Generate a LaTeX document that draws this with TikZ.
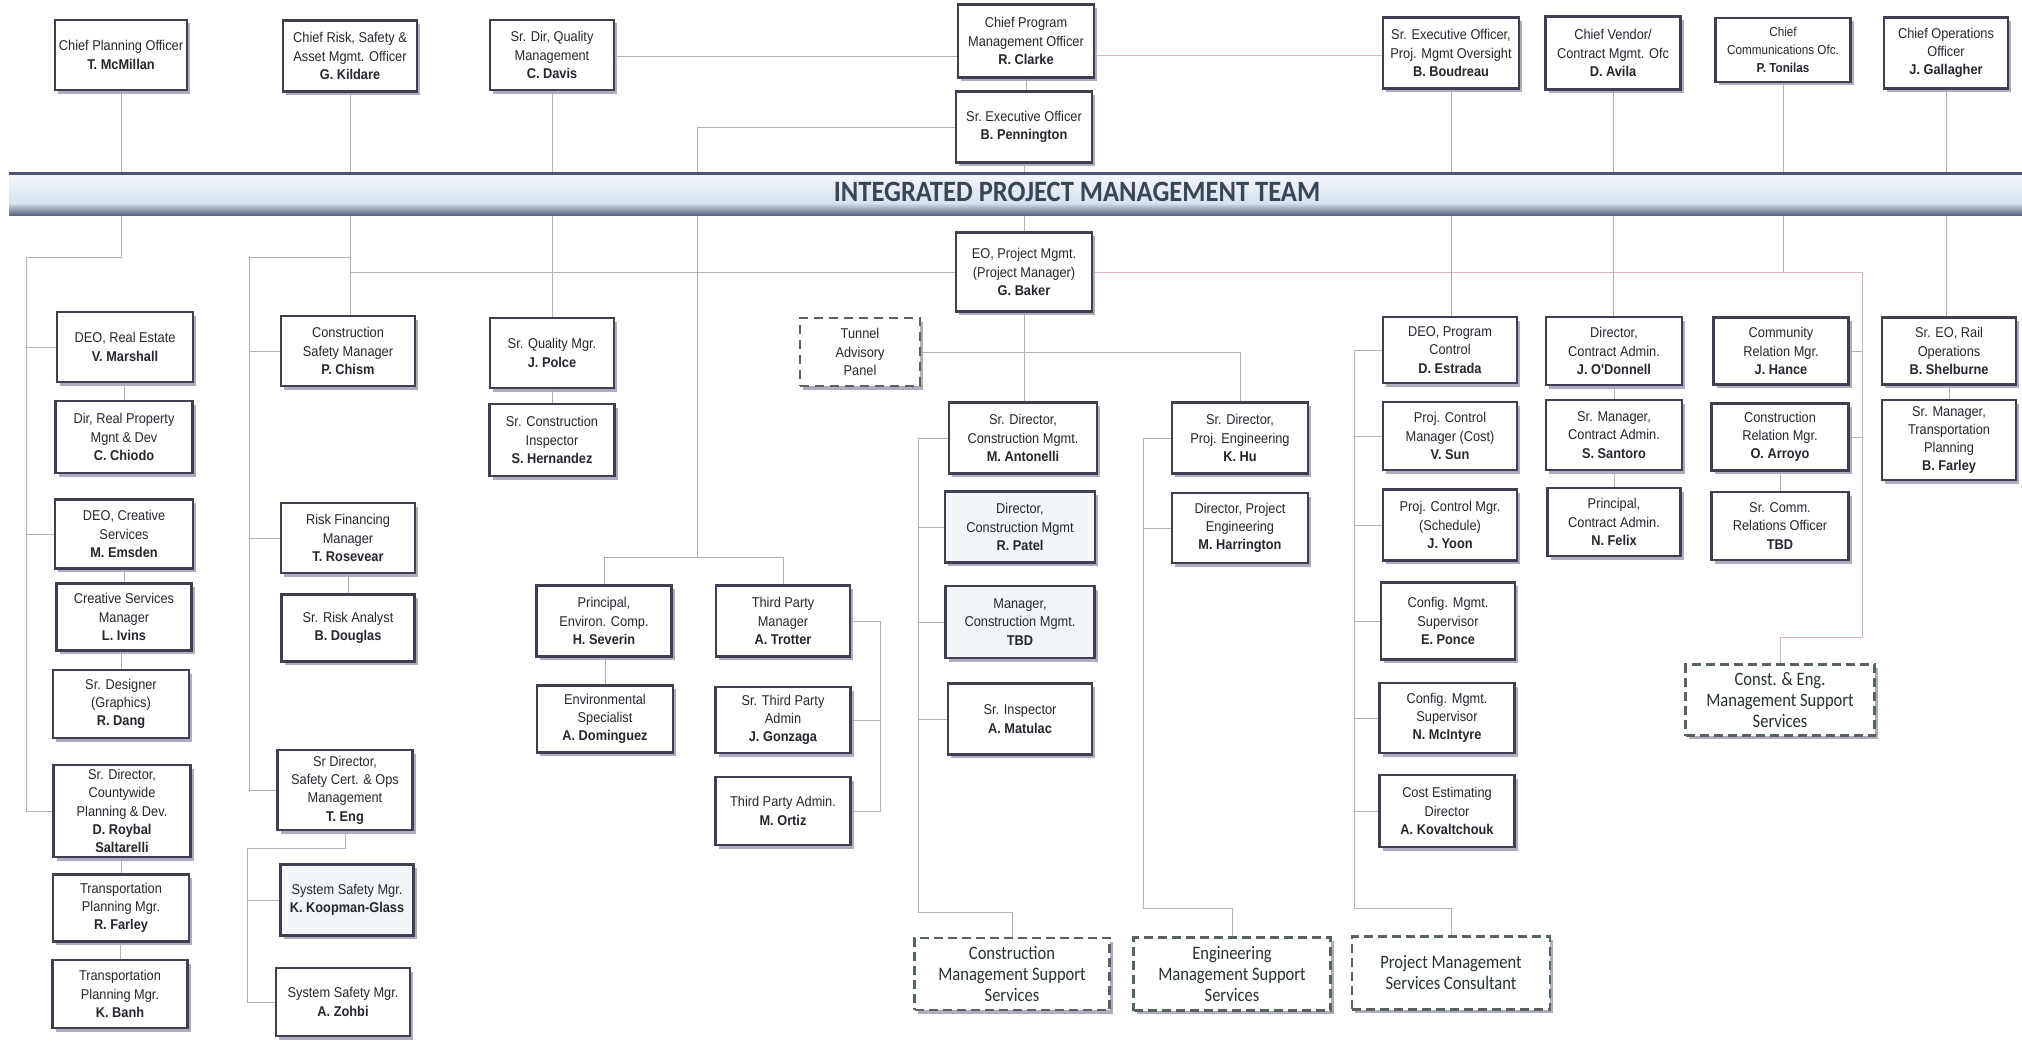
\documentclass[tikz,border=0pt]{standalone}
\usepackage{fontspec}
\newfontfamily\boxfont{Liberation Sans}[FakeStretch=0.9]
\newfontfamily\dashfont{Carlito}[FakeStretch=0.87]
\newfontfamily\titlefont{Carlito}[FakeStretch=0.9]
\usetikzlibrary{shadows}
\definecolor{boxc}{HTML}{3E4052}
\definecolor{txtc}{HTML}{26262E}
\definecolor{shadc}{HTML}{A6A4B8}
\definecolor{dashc}{HTML}{56645E}
\definecolor{dtxt}{HTML}{26332F}
\definecolor{linec}{HTML}{B2B2B2}
\definecolor{linep}{HTML}{DDB3B6}
\definecolor{bandtop}{HTML}{F3F7FB}
\definecolor{bandmid}{HTML}{D6E2EC}
\definecolor{banddark}{HTML}{5A667E}
\definecolor{bandedge}{HTML}{4A566C}
\definecolor{titlec}{HTML}{3A4656}
\definecolor{tint}{HTML}{F3F6F9}
\pgfdeclarelayer{bg}
\pgfdeclarelayer{mid}
\pgfsetlayers{bg,mid,main}
\tikzset{
  pbox/.style={draw=boxc, line width=2.4pt, fill=white, align=center, inner sep=0pt,
    text=txtc, font=\boxfont\fontsize{14.2}{18.3}\selectfont,
    drop shadow={shadow xshift=3pt, shadow yshift=-3.5pt, fill=shadc, opacity=0.9}},
  dbox/.style={pbox, dash pattern=on 9pt off 5pt, draw=dashc, text=dtxt,
    font=\dashfont\fontsize{19}{21}\selectfont},
  tbox/.style={pbox, dash pattern=on 9pt off 6pt, draw=dashc},
  sz/.style 2 args={minimum width=#1pt, minimum height=#2pt},
  ln/.style={draw=linec, line width=0.9pt},
  lnp/.style={draw=linep, line width=0.9pt}
}
\begin{document}
\begin{tikzpicture}[x=1pt,y=-1pt]
\useasboundingbox (0,0) rectangle (2022,1041);
\begin{pgfonlayer}{bg}
\fill[white] (0,0) rectangle (2022,1041);
\end{pgfonlayer}

% ---------- top row ----------
\node[pbox, sz={132}{70}] (cpo) at (121,55) {Chief Planning Officer\\\textbf{T. McMillan}};
\node[pbox, sz={134}{71}] (risk) at (350,56) {Chief Risk, Safety \&\\Asset Mgmt. Officer\\\textbf{G. Kildare}};
\node[pbox, sz={124}{70}] (qual) at (552,55) {Sr. Dir, Quality\\Management\\\textbf{C. Davis}};
\node[pbox, sz={136}{73}] (clarke) at (1026,41) {Chief Program\\Management Officer\\\textbf{R. Clarke}};
\node[pbox, sz={136}{71}] (penn) at (1024,127) {Sr.\ Executive Officer\\\textbf{B. Pennington}};
\node[pbox, sz={136}{71}] (boud) at (1451,53) {Sr. Executive Officer,\\Proj. Mgmt Oversight\\\textbf{B. Boudreau}};
\node[pbox, sz={135}{73}] (avila) at (1613,53) {Chief Vendor/\\Contract Mgmt. Ofc\\\textbf{D. Avila}};
\node[pbox, sz={135}{64}, font=\boxfont\fontsize{13}{18.3}\selectfont] (ton) at (1783,50) {Chief\\Communications Ofc.\\\textbf{P. Tonilas}};
\node[pbox, sz={124}{71}] (gal) at (1946,53) {Chief Operations\\Officer\\\textbf{J. Gallagher}};

% ---------- left column ----------
\node[pbox, sz={136}{70}] (deore) at (125,347) {DEO, Real Estate\\\textbf{V. Marshall}};
\node[pbox, sz={137}{72}] (drp) at (124,437) {Dir, Real Property\\Mgnt \& Dev\\\textbf{C. Chiodo}};
\node[pbox, sz={138}{69}] (deocs) at (124,534) {DEO, Creative\\Services\\\textbf{M. Emsden}};
\node[pbox, sz={135}{67}] (csmgr) at (124,617) {Creative Services\\Manager\\\textbf{L. Ivins}};
\node[pbox, sz={136}{68}] (sdes) at (121,704) {Sr. Designer\\(Graphics)\\\textbf{R. Dang}};
\node[pbox, sz={137}{92}] (cwide) at (122,811) {Sr. Director,\\Countywide\\Planning \& Dev.\\\textbf{D. Roybal}\\\textbf{Saltarelli}};
\node[pbox, sz={136}{67}] (tpm1) at (121,908) {Transportation\\Planning Mgr.\\\textbf{R. Farley}};
\node[pbox, sz={135}{68}] (tpm2) at (120,994) {Transportation\\Planning Mgr.\\\textbf{K. Banh}};

% ---------- risk column ----------
\node[pbox, sz={134}{70}] (csm) at (348,351) {Construction\\Safety Manager\\\textbf{P. Chism}};
\node[pbox, sz={134}{70}] (rfm) at (348,538) {Risk Financing\\Manager\\\textbf{T. Rosevear}};
\node[pbox, sz={133}{67}] (sra) at (348,628) {Sr. Risk Analyst\\\textbf{B. Douglas}};
\node[pbox, sz={135}{80}] (eng) at (345,790) {Sr Director,\\Safety Cert. \& Ops\\Management\\\textbf{T. Eng}};
\node[pbox, sz={133}{71}, fill=tint] (koop) at (347,900) {System Safety Mgr.\\\textbf{K. Koopman-Glass}};
\node[pbox, sz={134}{68}] (zohbi) at (343,1002) {System Safety Mgr.\\\textbf{A. Zohbi}};

% ---------- quality ----------
\node[pbox, sz={124}{70}] (sqm) at (552,353) {Sr. Quality Mgr.\\\textbf{J. Polce}};
\node[pbox, sz={125}{72}] (sci) at (552,440) {Sr. Construction\\Inspector\\\textbf{S. Hernandez}};

% ---------- tunnel / EO ----------
\node[tbox, sz={120}{68}] (tap) at (860,352) {Tunnel\\Advisory\\Panel};
\node[pbox, sz={136}{79}] (eo) at (1024,272) {EO, Project Mgmt.\\(Project Manager)\\\textbf{G. Baker}};

% ---------- third party ----------
\node[pbox, sz={135}{71}] (sev) at (604,621) {Principal,\\Environ. Comp.\\\textbf{H. Severin}};
\node[pbox, sz={134}{71}] (trot) at (783,621) {Third Party\\Manager\\\textbf{A. Trotter}};
\node[pbox, sz={136}{67}] (env) at (605,719) {Environmental\\Specialist\\\textbf{A. Dominguez}};
\node[pbox, sz={135}{66}] (gonz) at (783,720) {Sr. Third Party\\Admin\\\textbf{J. Gonzaga}};
\node[pbox, sz={135}{68}] (ortiz) at (783,811) {Third Party Admin.\\\textbf{M. Ortiz}};

% ---------- construction ----------
\node[pbox, sz={148}{71}] (anton) at (1023,438) {Sr. Director,\\Construction Mgmt.\\\textbf{M. Antonelli}};
\node[pbox, sz={150}{71}, fill=tint] (patel) at (1020,527) {Director,\\Construction Mgmt\\\textbf{R. Patel}};
\node[pbox, sz={149}{72}, fill=tint] (tbdm) at (1020,622) {Manager,\\Construction Mgmt.\\\textbf{TBD}};
\node[pbox, sz={144}{71}] (matul) at (1020,719) {Sr. Inspector\\\textbf{A. Matulac}};

% ---------- engineering ----------
\node[pbox, sz={136}{71}] (hu) at (1240,438) {Sr. Director,\\Proj. Engineering\\\textbf{K. Hu}};
\node[pbox, sz={136}{70}] (harr) at (1240,528) {Director, Project\\Engineering\\\textbf{M. Harrington}};

% ---------- program control ----------
\node[pbox, sz={134}{66}] (deopc) at (1450,350) {DEO, Program\\Control\\\textbf{D. Estrada}};
\node[pbox, sz={134}{68}] (sun) at (1450,436) {Proj. Control\\Manager (Cost)\\\textbf{V. Sun}};
\node[pbox, sz={134}{71}] (yoon) at (1450,525) {Proj. Control Mgr.\\(Schedule)\\\textbf{J. Yoon}};
\node[pbox, sz={134}{77}] (ponce) at (1448,621) {Config. Mgmt.\\Supervisor\\\textbf{E. Ponce}};
\node[pbox, sz={135}{70}] (mcin) at (1447,718) {Config. Mgmt.\\Supervisor\\\textbf{N. McIntyre}};
\node[pbox, sz={135}{72}] (cost) at (1447,811) {Cost Estimating\\Director\\\textbf{A. Kovaltchouk}};

% ---------- contract admin ----------
\node[pbox, sz={136}{68}] (odon) at (1614,351) {Director,\\Contract Admin.\\\textbf{J. O'Donnell}};
\node[pbox, sz={136}{70}] (sant) at (1614,435) {Sr. Manager,\\Contract Admin.\\\textbf{S. Santoro}};
\node[pbox, sz={133}{68}] (felix) at (1614,522) {Principal,\\Contract Admin.\\\textbf{N. Felix}};

% ---------- communications ----------
\node[pbox, sz={135}{67}] (hance) at (1781,351) {Community\\Relation Mgr.\\\textbf{J. Hance}};
\node[pbox, sz={137}{67}] (arroyo) at (1780,437) {Construction\\Relation Mgr.\\\textbf{O. Arroyo}};
\node[pbox, sz={137}{68}] (sctbd) at (1780,526) {Sr. Comm.\\Relations Officer\\\textbf{TBD}};

% ---------- rail ----------
\node[pbox, sz={134}{67}] (rail) at (1949,351) {Sr. EO, Rail\\Operations\\\textbf{B. Shelburne}};
\node[pbox, sz={134}{80}] (farley) at (1949,440) {Sr. Manager,\\Transportation\\Planning\\\textbf{B. Farley}};

% ---------- dashed support boxes ----------
\node[dbox, sz={195}{72}] (cmss) at (1012,974) {Construction\\Management Support\\Services};
\node[dbox, sz={197}{73}] (emss) at (1232,974) {Engineering\\Management Support\\Services};
\node[dbox, sz={198}{73}] (pmsc) at (1451,973) {Project Management\\Services Consultant};
\node[dbox, sz={189}{71}] (cems) at (1780,700) {Const. \& Eng.\\Management Support\\Services};

% ---------- band ----------
\begin{pgfonlayer}{mid}
\shade[top color=bandtop, bottom color=bandmid] (9,175) rectangle (2022,203);
\shade[top color=bandmid, bottom color=banddark] (9,203) rectangle (2022,215);
\fill[bandedge] (9,172) rectangle (2022,175);
\end{pgfonlayer}
\node[font=\titlefont\bfseries\fontsize{29.5}{32}\selectfont, text=titlec, inner sep=0pt] (title) at (1077,192) {INTEGRATED PROJECT MANAGEMENT TEAM};

% ---------- connectors ----------
\coordinate (lt) at (26,257);
\coordinate (rt) at (249,257);
\coordinate (st) at (247,848);
\coordinate (tpj) at (697,557);
\coordinate (tb) at (880,0);
\coordinate (rtk) at (1862,637);
\coordinate (ct) at (918,912);
\coordinate (et) at (1143,908);
\coordinate (pt) at (1354,908);
\begin{pgfonlayer}{bg}
% planning
\draw[ln] (cpo.south) |- (lt) |- (cwide.west);
\draw[ln] (lt |- deore.west) -- (deore.west);
\draw[ln] (lt |- deocs.west) -- (deocs.west);
\draw[ln] (drp.north) -- (drp.north |- deore.south);
\draw[ln] (csmgr.north) -- (csmgr.north |- deocs.south);
\draw[ln] (sdes.north) -- (sdes.north |- csmgr.south);
\draw[ln] (tpm1.north) -- (tpm1.north |- cwide.south);
\draw[ln] (tpm2.north) -- (tpm2.north |- tpm1.south);
% risk
\draw[ln] (risk.south) -- (risk.south |- csm.north);
\draw[ln] (risk.south |- rt) -- (rt) |- (eng.west);
\draw[ln] (rt |- csm.west) -- (csm.west);
\draw[ln] (rt |- rfm.west) -- (rfm.west);
\draw[ln] (sra.north) -- (sra.north |- rfm.south);
\draw[ln] (eng.south) |- (st) |- (zohbi.west);
\draw[ln] (st |- koop.west) -- (koop.west);
% quality
\draw[ln] (qual.south) -- (qual.south |- sqm.north);
\draw[ln] (sci.north) -- (sci.north |- sqm.south);
\draw[ln] (qual.east |- 0,56) -- (clarke.west |- 0,56);
\draw[lnp] (clarke.east |- 0,55) -- (boud.west |- 0,55);
% centre
\draw[ln] (clarke.south) -- (clarke.south |- penn.north);
\draw[ln] (penn.south) -- (penn.south |- eo.north);
\draw[ln] (penn.west) -| (tpj);
\draw[ln] (sev.north |- tpj) -- (trot.north |- tpj);
\draw[ln] (sev.north |- tpj) -- (sev.north);
\draw[ln] (trot.north |- tpj) -- (trot.north);
\draw[ln] (env.north) -- (env.north |- sev.south);
\draw[ln] (trot.east) -| (tb |- ortiz.east) -- (ortiz.east);
\draw[ln] (tb |- gonz.east) -- (gonz.east);
% EO
\draw[ln] (eo.west) -- (risk.south |- eo.west);
\draw[lnp] (eo.east) -| (rtk) -| (cems.north);
\draw[ln] (hance.east) -- (rtk |- hance.east);
\draw[ln] (arroyo.east) -- (rtk |- arroyo.east);
\draw[ln] (ton.south) -- (ton.south |- eo.east);
\draw[ln] (eo.south) -- (eo.south |- anton.north);
\draw[ln] (tap.east) -| (hu.north);
% construction
\draw[ln] (anton.west) -| (ct) -| (cmss.north);
\draw[ln] (ct |- patel.west) -- (patel.west);
\draw[ln] (ct |- tbdm.west) -- (tbdm.west);
\draw[ln] (ct |- matul.west) -- (matul.west);
% engineering
\draw[ln] (hu.west) -| (et) -| (emss.north);
\draw[ln] (et |- harr.west) -- (harr.west);
% program control
\draw[ln] (boud.south) -- (boud.south |- deopc.north);
\draw[ln] (deopc.west) -| (pt) -| (pmsc.north);
\draw[ln] (pt |- sun.west) -- (sun.west);
\draw[ln] (pt |- yoon.west) -- (yoon.west);
\draw[ln] (pt |- ponce.west) -- (ponce.west);
\draw[ln] (pt |- mcin.west) -- (mcin.west);
\draw[ln] (pt |- cost.west) -- (cost.west);
% contract admin
\draw[ln] (avila.south) -- (avila.south |- odon.north);
\draw[ln] (sant.north) -- (sant.north |- odon.south);
\draw[ln] (felix.north) -- (felix.north |- sant.south);
% communications
\draw[ln] (sctbd.north) -- (sctbd.north |- arroyo.south);
% rail
\draw[ln] (gal.south) -- (gal.south |- rail.north);
\draw[ln] (farley.north) -- (farley.north |- rail.south);
\end{pgfonlayer}
\end{tikzpicture}
\end{document}
